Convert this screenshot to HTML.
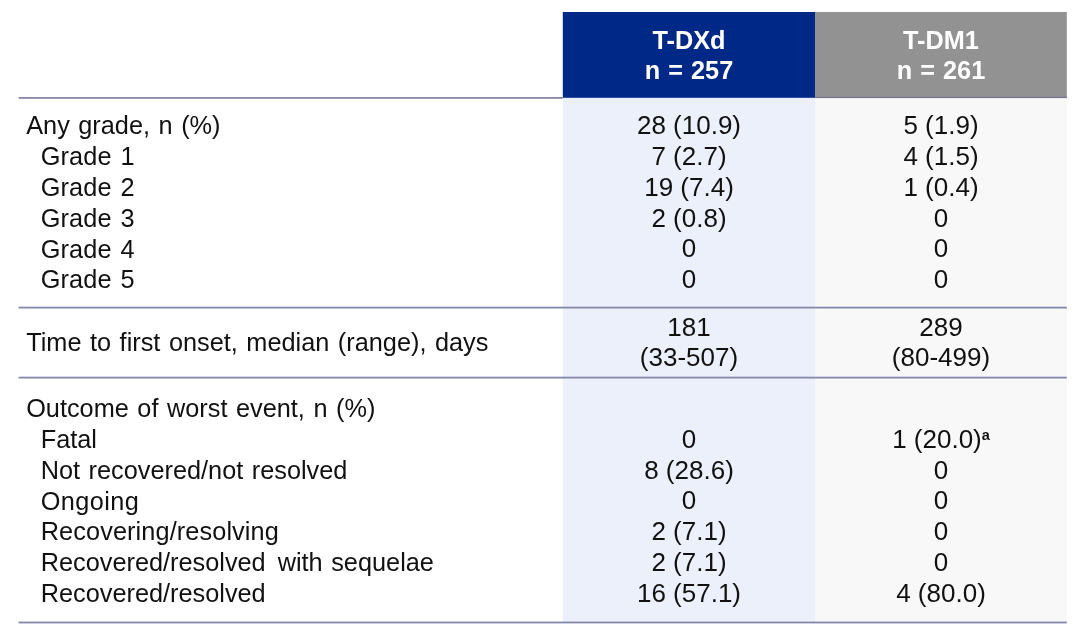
<!DOCTYPE html>
<html lang="en"><head><meta charset="utf-8"><title>Table</title>
<style>
html,body{margin:0;padding:0;background:#fff;}
body{width:1080px;height:636px;position:relative;overflow:hidden;font-family:"Liberation Sans",Arial,sans-serif;color:#111;}
.bg{position:absolute;}
.t{position:absolute;word-spacing:1.5px;white-space:nowrap;font-size:25.3px;line-height:30px;height:30px;}
.c{text-align:center;width:252px;font-size:26px;word-spacing:0;}
.h{position:absolute;word-spacing:1px;white-space:nowrap;font-weight:bold;color:#fff;text-align:center;width:252px;font-size:25.3px;line-height:30px;height:30px;}
sup{font-size:0.56em;font-weight:bold;vertical-align:baseline;position:relative;top:-0.52em;line-height:0;}
</style></head><body>
<svg class="bg" style="left:0;top:0" width="1080" height="636" viewBox="0 0 1080 636">
<rect x="562.8" y="97" width="252.2" height="525.5" fill="#ecf0fa"/>
<rect x="815" y="97" width="251.8" height="525.5" fill="#f8f8f8"/>
<rect x="562.8" y="12" width="252.2" height="85.8" fill="#002987"/>
<rect x="815" y="12" width="251.8" height="85.8" fill="#929292"/>
<rect x="18.6" y="97" width="544.2" height="1.8" fill="#8388ab"/>
<rect x="815" y="96.8" width="251.8" height="1.3" fill="#737592"/>
<rect x="18.6" y="306.7" width="1048.2" height="1.8" fill="#8388ab"/>
<rect x="18.6" y="376.7" width="1048.2" height="1.8" fill="#8388ab"/>
<rect x="18.6" y="621.6" width="1048.2" height="1.8" fill="#8388ab"/>
</svg>

<div class="h" style="left:563px;top:24.73px"><span class="m">T-DXd</span></div>
<div class="h" style="left:563px;top:55.33px"><span class="m">n = 257</span></div>
<div class="h" style="left:815px;top:24.73px"><span class="m">T-DM1</span></div>
<div class="h" style="left:815px;top:55.33px"><span class="m">n = 261</span></div>
<div class="t" style="left:26.2px;top:110.43px"><span class="m">Any grade, n (%)</span></div>
<div class="t" style="left:40.7px;top:141.20px"><span class="m"><span style="letter-spacing:0.15px">Grade 1</span></span></div>
<div class="t" style="left:40.7px;top:171.97px"><span class="m"><span style="letter-spacing:0.15px">Grade 2</span></span></div>
<div class="t" style="left:40.7px;top:202.74px"><span class="m"><span style="letter-spacing:0.15px">Grade 3</span></span></div>
<div class="t" style="left:40.7px;top:233.51px"><span class="m"><span style="letter-spacing:0.15px">Grade 4</span></span></div>
<div class="t" style="left:40.7px;top:264.28px"><span class="m"><span style="letter-spacing:0.15px">Grade 5</span></span></div>
<div class="t" style="left:26.2px;top:326.63px"><span class="m">Time to first onset, median (range), days</span></div>
<div class="t" style="left:26.2px;top:393.23px"><span class="m">Outcome of worst event, n (%)</span></div>
<div class="t" style="left:40.7px;top:424.00px"><span class="m">Fatal</span></div>
<div class="t" style="left:40.7px;top:454.77px"><span class="m">Not recovered/not resolved</span></div>
<div class="t" style="left:40.7px;top:485.54px"><span class="m"><span style="letter-spacing:0.4px">Ongoing</span></span></div>
<div class="t" style="left:40.7px;top:516.31px"><span class="m"><span style="letter-spacing:0.1px">Recovering/resolving</span></span></div>
<div class="t" style="left:40.7px;top:547.08px"><span class="m">Recovered/resolved<span style="margin-left:3.5px"></span> with sequelae</span></div>
<div class="t" style="left:40.7px;top:577.85px"><span class="m">Recovered/resolved</span></div>
<div class="t c" style="left:563px;top:110.19px"><span class="m">28 (10.9)</span></div>
<div class="t c" style="left:563px;top:140.96px"><span class="m">7 (2.7)</span></div>
<div class="t c" style="left:563px;top:171.73px"><span class="m">19 (7.4)</span></div>
<div class="t c" style="left:563px;top:202.50px"><span class="m">2 (0.8)</span></div>
<div class="t c" style="left:563px;top:233.27px"><span class="m">0</span></div>
<div class="t c" style="left:563px;top:264.04px"><span class="m">0</span></div>
<div class="t c" style="left:563px;top:311.99px"><span class="m">181</span></div>
<div class="t c" style="left:563px;top:342.39px"><span class="m">(33-507)</span></div>
<div class="t c" style="left:563px;top:423.76px"><span class="m">0</span></div>
<div class="t c" style="left:563px;top:454.53px"><span class="m">8 (28.6)</span></div>
<div class="t c" style="left:563px;top:485.30px"><span class="m">0</span></div>
<div class="t c" style="left:563px;top:516.07px"><span class="m">2 (7.1)</span></div>
<div class="t c" style="left:563px;top:546.84px"><span class="m">2 (7.1)</span></div>
<div class="t c" style="left:563px;top:577.61px"><span class="m">16 (57.1)</span></div>
<div class="t c" style="left:815px;top:110.19px"><span class="m">5 (1.9)</span></div>
<div class="t c" style="left:815px;top:140.96px"><span class="m">4 (1.5)</span></div>
<div class="t c" style="left:815px;top:171.73px"><span class="m">1 (0.4)</span></div>
<div class="t c" style="left:815px;top:202.50px"><span class="m">0</span></div>
<div class="t c" style="left:815px;top:233.27px"><span class="m">0</span></div>
<div class="t c" style="left:815px;top:264.04px"><span class="m">0</span></div>
<div class="t c" style="left:815px;top:311.99px"><span class="m">289</span></div>
<div class="t c" style="left:815px;top:342.39px"><span class="m">(80-499)</span></div>
<div class="t c" style="left:815px;top:423.76px"><span class="m">1 (20.0)<sup>a</sup></span></div>
<div class="t c" style="left:815px;top:454.53px"><span class="m">0</span></div>
<div class="t c" style="left:815px;top:485.30px"><span class="m">0</span></div>
<div class="t c" style="left:815px;top:516.07px"><span class="m">0</span></div>
<div class="t c" style="left:815px;top:546.84px"><span class="m">0</span></div>
<div class="t c" style="left:815px;top:577.61px"><span class="m">4 (80.0)</span></div>
</body></html>
